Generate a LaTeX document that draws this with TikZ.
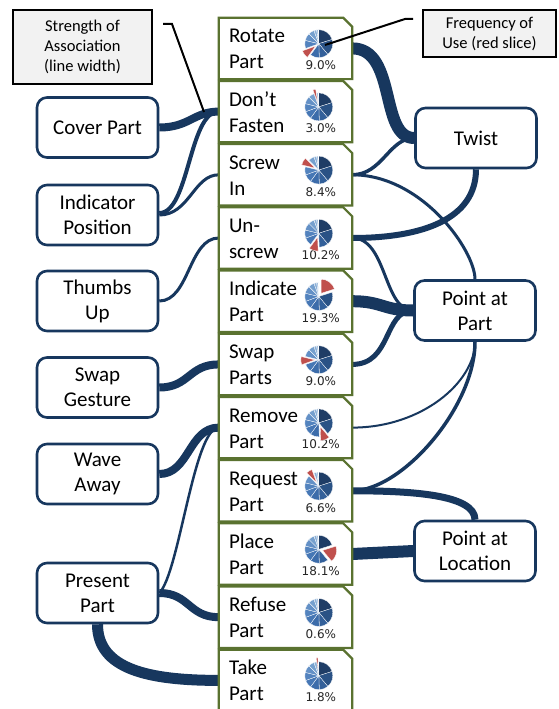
\documentclass[tikz,border=0pt]{standalone}
\usepackage{fontspec}
\setmainfont{Carlito}
\newfontfamily\pctfont{DejaVu Sans}
\pgfdeclarelayer{bg}
\pgfsetlayers{bg,main}
\definecolor{navy}{HTML}{17375E}
\definecolor{olivebd}{HTML}{5A7230}
\definecolor{pred}{HTML}{C0504D}
\definecolor{cgray}{HTML}{F2F2F2}
\definecolor{pc1}{HTML}{1F3D66}
\definecolor{pc2}{HTML}{2A5285}
\definecolor{pc3}{HTML}{33609A}
\definecolor{pc4}{HTML}{3C6CAA}
\definecolor{pc5}{HTML}{4677B5}
\definecolor{pc6}{HTML}{5383BE}
\definecolor{pc7}{HTML}{6390C6}
\definecolor{pc8}{HTML}{76A0CE}
\definecolor{pc9}{HTML}{8CB0D7}
\definecolor{pc10}{HTML}{A5C1E0}
\definecolor{pc11}{HTML}{C0D4EA}
\tikzset{
  gesture/.style={draw=navy, line width=2.6pt, rounded corners=10pt, fill=white,
    minimum width=121pt, minimum height=60pt, align=center, inner sep=0pt,
    font=\fontsize{21}{25}\selectfont},
  actbox/.style={minimum width=133pt, minimum height=61pt, inner sep=0pt},
  acttext/.style={anchor=north west, inner sep=0pt, align=left,
    font=\fontsize{21}{26}\selectfont},
  pct/.style={anchor=base, inner sep=0pt, text=black!85,
    font=\pctfont\fontsize{12}{14}\selectfont},
  conn/.style={draw=navy, line cap=butt},
  callout/.style={draw=black, line width=2.5pt, fill=cgray, inner sep=0pt,
    align=center, font=\fontsize{16.5}{20}\selectfont},
  leader/.style={draw=black, line width=2pt},
}
\newcommand\actshape[1]{%
  \filldraw[fill=white, draw=olivebd, line width=2.2pt, line join=miter]
    (#1.north west) -- ([xshift=-9pt]#1.north east) -- ([yshift=-9pt]#1.north east)
    -- (#1.south east) -- (#1.south west) -- cycle;}
\newcommand\acttxt[2]{%
  \node[acttext] (#1-t) at ([shift={(10,-8)}]#1.north west) {\rule{0pt}{17pt}#2};}
\newcommand\mypie[3]{%
  \node[pct] (#1-pct) at ([shift={(102,-52)}]#1.north west) {#3};
  \begin{scope}[shift={([shift={(100,-26)}]#1.north west)}]
    \foreach \a/\b/\i in {90/17.78/1,17.78/-49.96/2,-49.96/-88.13/3,-88.13/-126.30/4,
      -126.30/-159.98/5,-159.98/-193.66/6,-193.66/-225.10/7,-225.10/-249.79/8,
      -249.79/-261.02/9,-261.02/-267.76/10,-267.76/-270/11}{%
      \ifnum\i=#2\relax
        \pgfmathsetmacro\m{(\a+\b)/2}
        \filldraw[fill=pred, draw=white, line width=0.3pt, shift={(\m:4)}]
          (0,0) -- (\a:14) arc[start angle=\a, end angle=\b, radius=14] -- cycle;
      \else
        \filldraw[fill=pc\i, draw=white, line width=0.3pt]
          (0,0) -- (\a:14) arc[start angle=\a, end angle=\b, radius=14] -- cycle;
      \fi}
  \end{scope}}
\begin{document}
\begin{tikzpicture}[x=1pt,y=1pt]
\useasboundingbox (0,0) rectangle (558,-709);
\begin{pgfonlayer}{bg}
  \fill[white] (0,0) rectangle (558,-709);
\end{pgfonlayer}

% gesture nodes
\node[gesture] (cover)   at (97.5,-127.5) {Cover Part};
\node[gesture] (indpos)  at (97.5,-215)   {Indicator\\Position};
\node[gesture] (thumbs)  at (97.5,-301)   {Thumbs\\Up};
\node[gesture] (swapg)   at (97.5,-387.5) {Swap\\Gesture};
\node[gesture] (wave)    at (97.5,-474)   {Wave\\Away};
\node[gesture] (present) at (97.5,-593)   {Present\\Part};
\node[gesture] (twist)   at (476,-138)    {Twist};
\node[gesture] (ppart)   at (475,-310.5)  {Point at\\Part};
\node[gesture] (ploc)    at (475,-551)    {Point at\\Location};

% action boxes
\node[actbox] (rot)     at (285.5,-48.4)  {};
\node[actbox] (dont)    at (285.5,-111.6) {};
\node[actbox] (screw)   at (285.5,-174.8) {};
\node[actbox] (unscrew) at (285.5,-238)   {};
\node[actbox] (indic)   at (285.5,-301.2) {};
\node[actbox] (swapp)   at (285.5,-364.4) {};
\node[actbox] (remove)  at (285.5,-427.6) {};
\node[actbox] (request) at (285.5,-490.8) {};
\node[actbox] (place)   at (285.5,-554)   {};
\node[actbox] (refuse)  at (285.5,-617.2) {};
\node[actbox] (take)    at (285.5,-680.4) {};
\foreach \n in {rot,dont,screw,unscrew,indic,swapp,remove,request,place,refuse,take}{\actshape{\n}}

\acttxt{rot}{Rotate\\Part}
\acttxt{dont}{Don’t\\Fasten}
\acttxt{screw}{Screw\\In}
\acttxt{unscrew}{Un-\\screw}
\acttxt{indic}{Indicate\\Part}
\acttxt{swapp}{Swap\\Parts}
\acttxt{remove}{Remove\\Part}
\acttxt{request}{Request\\Part}
\acttxt{place}{Place\\Part}
\acttxt{refuse}{Refuse\\Part}
\acttxt{take}{Take\\Part}

\mypie{rot}{5}{9.0\%}
\mypie{dont}{9}{3.0\%}
\mypie{screw}{7}{8.4\%}
\mypie{unscrew}{4}{10.2\%}
\mypie{indic}{1}{19.3\%}
\mypie{swapp}{6}{9.0\%}
\mypie{remove}{3}{10.2\%}
\mypie{request}{8}{6.6\%}
\mypie{place}{2}{18.1\%}
\mypie{refuse}{11}{0.6\%}
\mypie{take}{10}{1.8\%}

% connectors
\begin{pgfonlayer}{bg}
  \draw[conn, line width=8pt] (cover.east) .. controls +(30,0) and +(-25,0) .. (dont.west);
  \draw[conn, line width=4pt] ([yshift=2pt]indpos.east) .. controls +(30,0) and +(-30,0) .. (dont.west);
  \draw[conn, line width=3pt] (indpos.east) .. controls +(30,0) and +(-25,0) .. (screw.west);
  \draw[conn, line width=3pt] (thumbs.east) .. controls +(30,0) and +(-30,0) .. (unscrew.west);
  \draw[conn, line width=8pt] (swapg.east) .. controls +(30,0) and +(-30,0) .. (swapp.west);
  \draw[conn, line width=8pt] (wave.east) .. controls +(30,0) and +(-30,0) .. (remove.west);
  \draw[conn, line width=2.5pt] (present.east) .. controls +(20,20) and +(-25,0) .. (remove.west);
  \draw[conn, line width=8pt] (present.east) .. controls +(30,0) and +(-30,0) .. (refuse.west);
  \draw[conn, line width=11pt] (present.south) .. controls +(0,-45) and +(-70,0) .. (take.west);

  \draw[conn, line width=12pt] (rot.east) .. controls +(45,0) and +(-35,0) .. (twist.west);
  \draw[conn, line width=3.5pt] (screw.east) .. controls +(30,0) and +(-25,0) .. (twist.west);
  \draw[conn, line width=3pt] (screw.east) .. controls +(70,0) and +(0,28.5) .. (ppart.north);
  \draw[conn, line width=6pt] (unscrew.east) .. controls +(70,0) and +(0,-50) .. (twist.south);
  \draw[conn, line width=3pt] (unscrew.east) .. controls +(35,0) and +(-30,0) .. (ppart.west);
  \draw[conn, line width=12pt] (indic.east) .. controls +(30,0) and +(-30,0) .. (ppart.west);
  \draw[conn, line width=5pt] (swapp.east) .. controls +(40,0) and +(-30,0) .. (ppart.west);
  \draw[conn, line width=2pt] (remove.east) .. controls +(70,0) and +(0,-40) .. (ppart.south);
  \draw[conn, line width=3.5pt] (request.east) .. controls +(50,0) and +(0,-65) .. (ppart.south);
  \draw[conn, line width=7pt] (request.east) .. controls +(60,0) and +(0,25) .. (ploc.north);
  \draw[conn, line width=12pt] (place.east) -- (ploc.west);
\end{pgfonlayer}

% callouts
\node[callout, minimum width=139pt, minimum height=74pt] (strength) at (82.5,-47)
  {Strength of\\Association\\(line width)};
\node[callout, minimum width=133pt, minimum height=47pt] (freq) at (489.5,-33.5)
  {Frequency of\\Use (red slice)};
\coordinate (sl1) at (163,-24);
\coordinate (sl2) at (204,-112);
\draw[leader] (sl1) -- ++(9,0) -- (sl2);
\coordinate (fl1) at (413,-19);
\coordinate (fl2) at (325,-45);
\draw[leader] (fl1) -- ++(-8,0) -- (fl2);
\end{tikzpicture}
\end{document}
